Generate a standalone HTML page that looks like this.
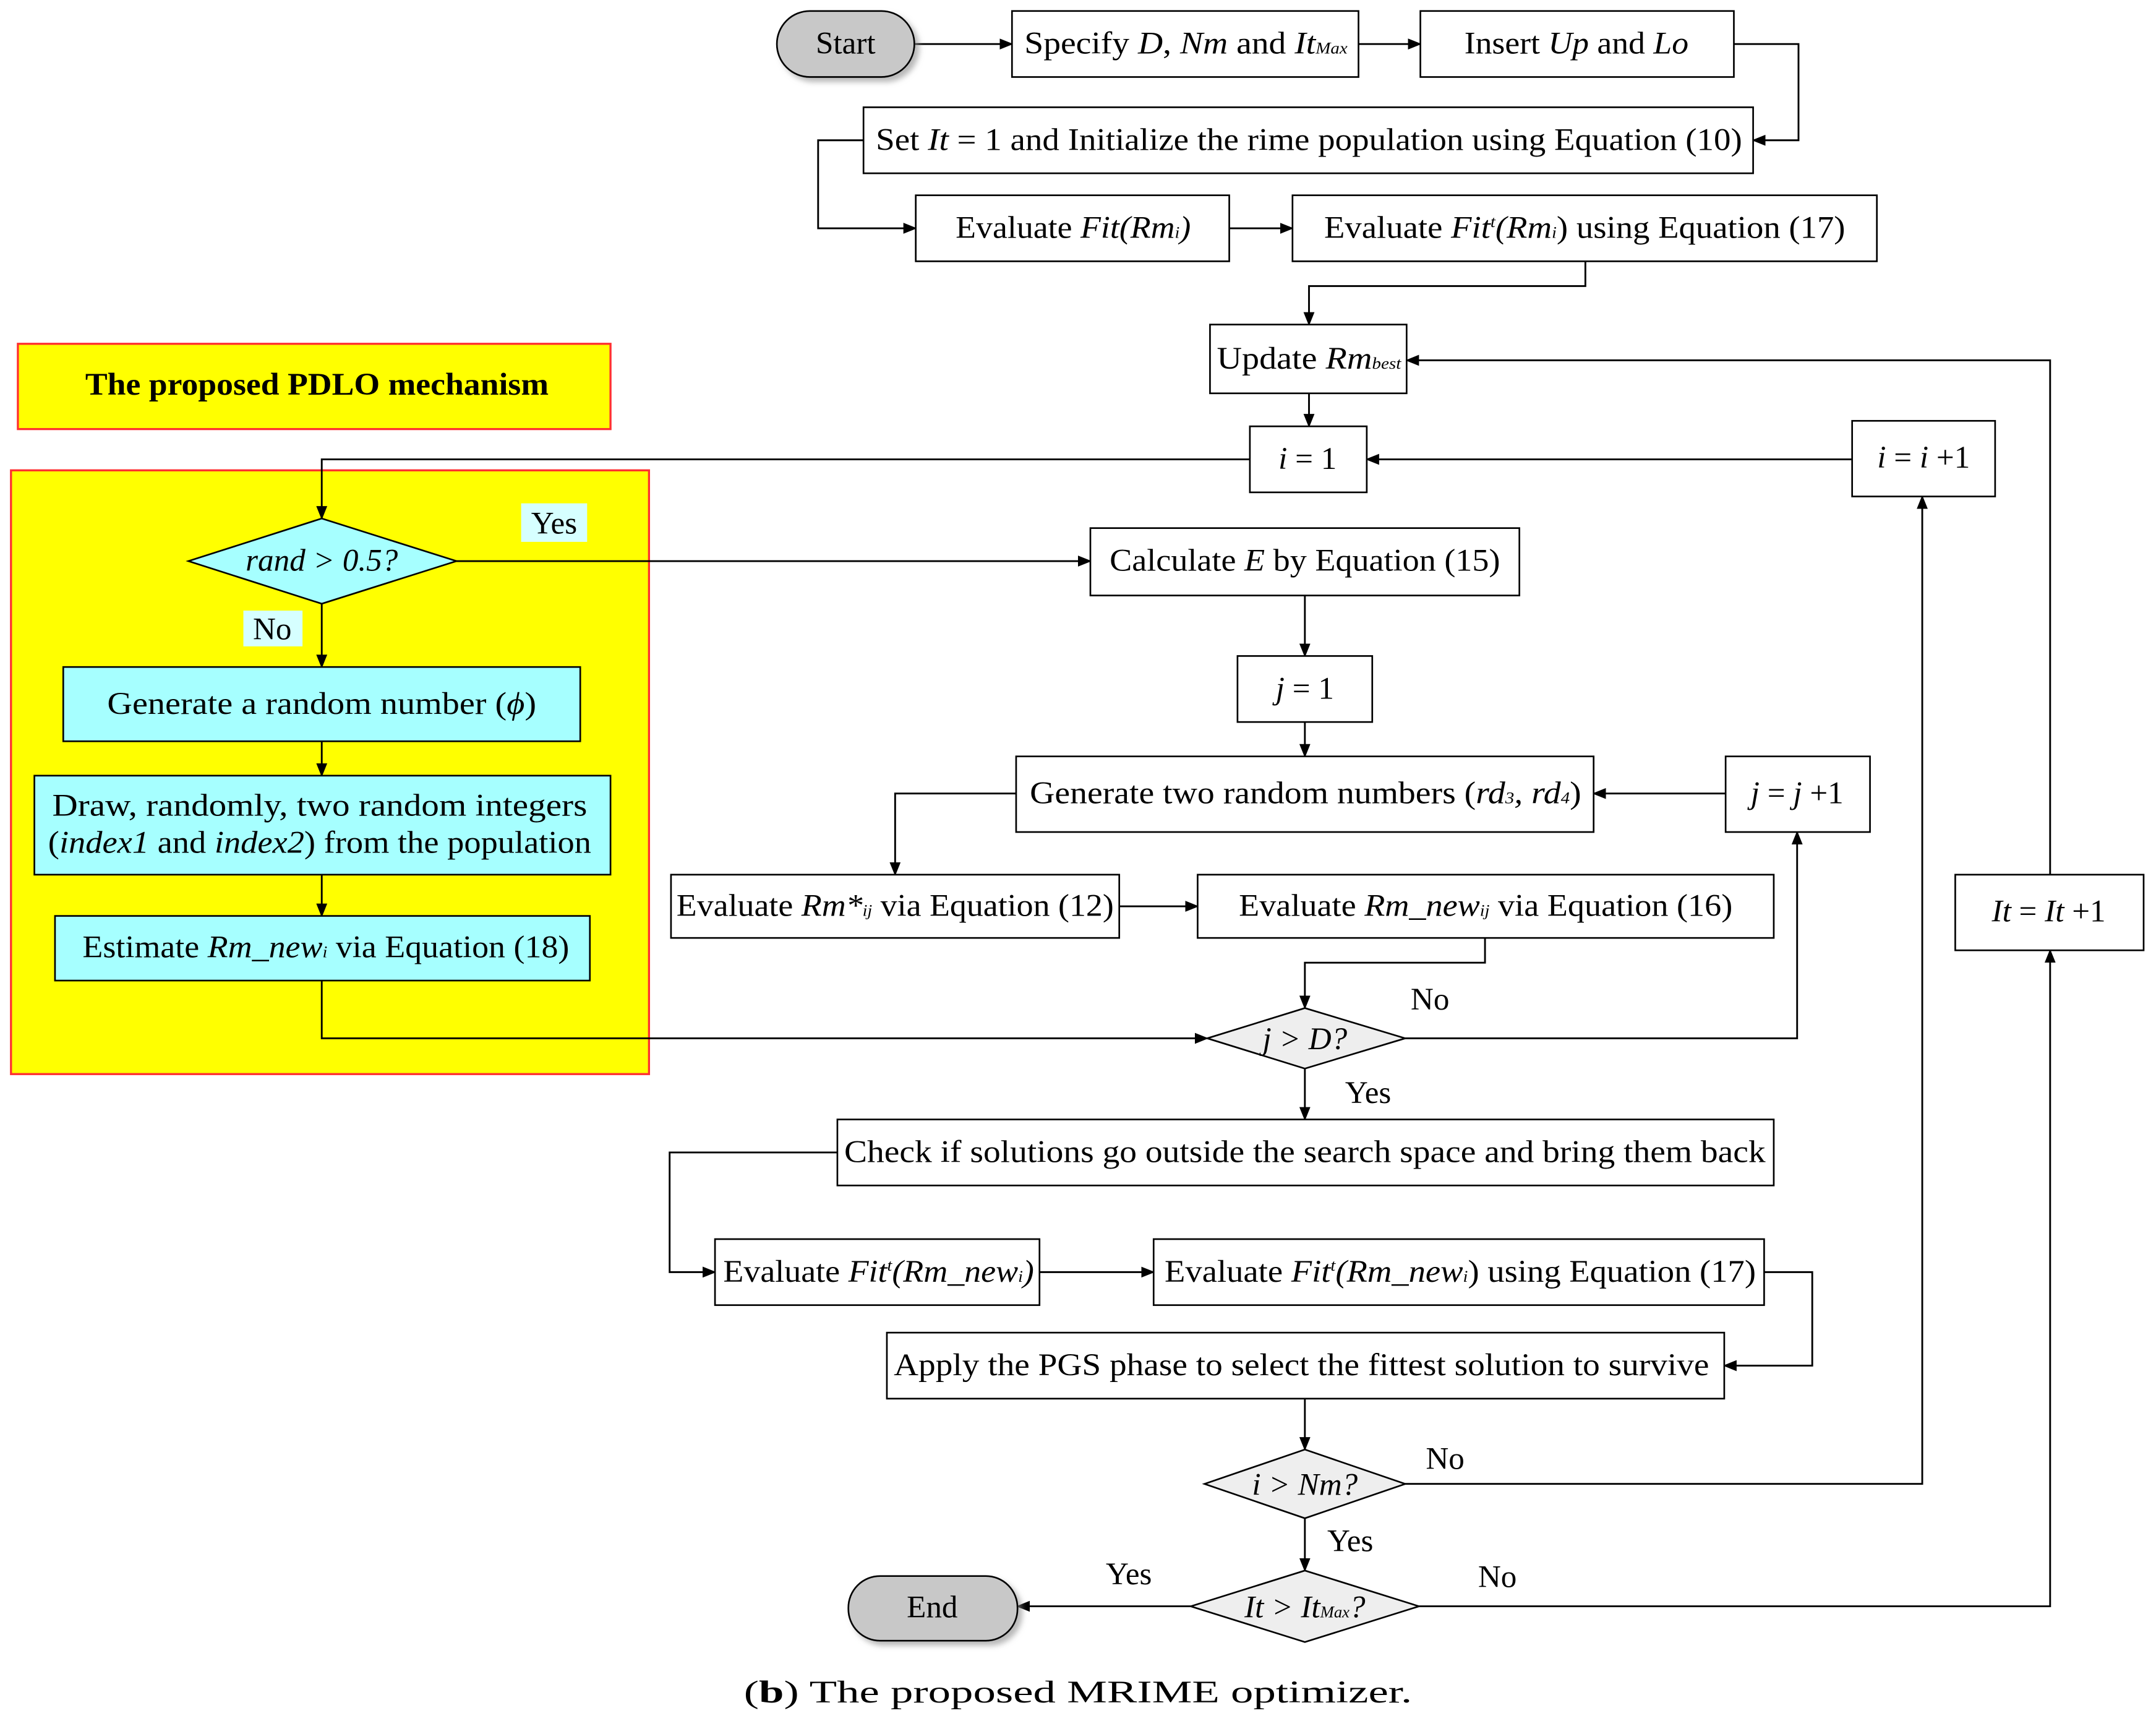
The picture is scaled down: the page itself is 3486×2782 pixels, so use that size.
<!DOCTYPE html>
<html><head><meta charset="utf-8"><style>
html,body{margin:0;padding:0;background:#fff;}
svg{display:block;}
text{font-family:"Liberation Serif",serif;font-size:23px;fill:#000;}
.i{font-style:italic;}
</style></head><body>
<svg width="3486" height="2782" viewBox="0 0 1568 1251.4" preserveAspectRatio="none" xmlns="http://www.w3.org/2000/svg">
<defs>
<marker id="a" markerWidth="10" markerHeight="8" refX="9" refY="4" orient="auto" markerUnits="userSpaceOnUse"><path d="M0,0 L10,4 L0,8 z" fill="#000"/></marker>
<filter id="sh" x="-10%" y="-10%" width="130%" height="140%"><feDropShadow dx="3" dy="3" stdDeviation="2" flood-color="#888" flood-opacity="0.6"/></filter>
</defs>
<rect width="1568" height="1252" fill="#fff"/>
<rect x="13" y="250" width="431" height="62" fill="#ffff00" stroke="#ff3030" stroke-width="1.5"/>
<text x="62" y="287" font-weight="bold" textLength="337" lengthAdjust="spacingAndGlyphs">The proposed PDLO mechanism</text>
<rect x="8" y="342" width="464" height="439" fill="#ffff00" stroke="#ff3030" stroke-width="1.5"/>

<g fill="none" stroke="#000" stroke-width="1.3">
<path d="M665,32 H736" marker-end="url(#a)"/>
<path d="M988,32 H1033" marker-end="url(#a)"/>
<path d="M1261,32 H1308 V102 H1275" marker-end="url(#a)"/>
<path d="M628,102 H595 V166 H666" marker-end="url(#a)"/>
<path d="M894,166 H940" marker-end="url(#a)"/>
<path d="M1153,190 V208 H952 V236" marker-end="url(#a)"/>
<path d="M952,286 V310" marker-end="url(#a)"/>
<path d="M909,334 H234 V377" marker-end="url(#a)"/>
<path d="M1347,334 H994" marker-end="url(#a)"/>
<path d="M332,408 H793" marker-end="url(#a)"/>
<path d="M234,439 V485" marker-end="url(#a)"/>
<path d="M234,539 V564" marker-end="url(#a)"/>
<path d="M234,636 V666" marker-end="url(#a)"/>
<path d="M234,713 V755 H878" marker-end="url(#a)"/>
<path d="M949,433 V477" marker-end="url(#a)"/>
<path d="M949,525 V550" marker-end="url(#a)"/>
<path d="M739,577 H651 V636" marker-end="url(#a)"/>
<path d="M814,659 H871" marker-end="url(#a)"/>
<path d="M1080,682 V700 H949 V733" marker-end="url(#a)"/>
<path d="M1022,755 H1307 V605" marker-end="url(#a)"/>
<path d="M1255,577 H1159" marker-end="url(#a)"/>
<path d="M949,777 V814" marker-end="url(#a)"/>
<path d="M609,838 H487 V925 H520" marker-end="url(#a)"/>
<path d="M756,925 H839" marker-end="url(#a)"/>
<path d="M1283,925 H1318 V993 H1254" marker-end="url(#a)"/>
<path d="M949,1017 V1054" marker-end="url(#a)"/>
<path d="M1022,1079 H1398 V361" marker-end="url(#a)"/>
<path d="M949,1104 V1142" marker-end="url(#a)"/>
<path d="M866,1168 H740" marker-end="url(#a)"/>
<path d="M1032,1168 H1491 V691" marker-end="url(#a)"/>
<path d="M1491,636 V262 H1023" marker-end="url(#a)"/>
</g>

<g stroke="#000" stroke-width="1.2" fill="#fff">
<rect x="565" y="8" width="100" height="48" rx="24" fill="#c8c8c8" filter="url(#sh)"/>
<rect x="617" y="1146" width="123" height="47" rx="23" fill="#c8c8c8" filter="url(#sh)"/>
<rect x="736" y="8" width="252" height="48"/>
<rect x="1033" y="8" width="228" height="48"/>
<rect x="628" y="78" width="647" height="48"/>
<rect x="666" y="142" width="228" height="48"/>
<rect x="940" y="142" width="425" height="48"/>
<rect x="880" y="236" width="143" height="50"/>
<rect x="909" y="310" width="85" height="48"/>
<rect x="1347" y="306" width="104" height="55"/>
<rect x="793" y="384" width="312" height="49"/>
<rect x="900" y="477" width="98" height="48"/>
<rect x="739" y="550" width="420" height="55"/>
<rect x="1255" y="550" width="105" height="55"/>
<rect x="488" y="636" width="326" height="46"/>
<rect x="871" y="636" width="419" height="46"/>
<rect x="609" y="814" width="681" height="48"/>
<rect x="520" y="901" width="236" height="48"/>
<rect x="839" y="901" width="444" height="48"/>
<rect x="645" y="969" width="609" height="48"/>
<rect x="1422" y="636" width="137" height="55"/>
<path d="M878,755 L949,733 L1022,755 L949,777 Z" fill="#eeeeee"/>
<path d="M876,1079 L949,1054 L1022,1079 L949,1104 Z" fill="#eeeeee"/>
<path d="M866,1168 L949,1142 L1032,1168 L949,1194 Z" fill="#eeeeee"/>
<path d="M137,408 L234,377 L332,408 L234,439 Z" fill="#a6ffff"/>
<rect x="46" y="485" width="376" height="54" fill="#a6ffff"/>
<rect x="25" y="564" width="419" height="72" fill="#a6ffff"/>
<rect x="40" y="666" width="389" height="47" fill="#a6ffff"/>
</g>
<rect x="379" y="366" width="48" height="28" fill="#d6ffff"/>
<rect x="177" y="444" width="43" height="26" fill="#d6ffff"/>

<text x="615" y="39" text-anchor="middle">Start</text>
<text x="678" y="1176" text-anchor="middle">End</text>
<text x="745" y="39" textLength="235" lengthAdjust="spacingAndGlyphs">Specify <tspan class="i">D</tspan>, <tspan class="i">Nm</tspan> and <tspan class="i">It<tspan font-size="12">Max</tspan></tspan></text>
<text x="1065" y="39" textLength="163" lengthAdjust="spacingAndGlyphs">Insert <tspan class="i">Up</tspan> and <tspan class="i">Lo</tspan></text>
<text x="637" y="109" textLength="630" lengthAdjust="spacingAndGlyphs">Set <tspan class="i">It</tspan> = 1 and Initialize the rime population using Equation (10)</text>
<text x="695" y="173" textLength="171" lengthAdjust="spacingAndGlyphs">Evaluate <tspan class="i">Fit(Rm<tspan font-size="12">i</tspan>)</tspan></text>
<text x="963" y="173" textLength="379" lengthAdjust="spacingAndGlyphs">Evaluate <tspan class="i">Fit<tspan font-size="12" dy="-8">t</tspan><tspan dy="8">(Rm</tspan><tspan font-size="12">i</tspan></tspan>) using Equation (17)</text>
<text x="885" y="268" textLength="134" lengthAdjust="spacingAndGlyphs">Update <tspan class="i">Rm<tspan font-size="12">best</tspan></tspan></text>
<text x="951" y="341" text-anchor="middle"><tspan class="i">i</tspan> = 1</text>
<text x="1399" y="340" text-anchor="middle"><tspan class="i">i</tspan> = <tspan class="i">i</tspan> +1</text>
<text x="807" y="415" textLength="284" lengthAdjust="spacingAndGlyphs">Calculate <tspan class="i">E</tspan> by Equation (15)</text>
<text x="949" y="508" text-anchor="middle"><tspan class="i">j</tspan> = 1</text>
<text x="749" y="584" textLength="401" lengthAdjust="spacingAndGlyphs">Generate two random numbers (<tspan class="i">rd<tspan font-size="12">3</tspan>, rd<tspan font-size="12">4</tspan></tspan>)</text>
<text x="1307" y="584" text-anchor="middle"><tspan class="i">j</tspan> = <tspan class="i">j</tspan> +1</text>
<text x="492" y="666" textLength="318" lengthAdjust="spacingAndGlyphs">Evaluate <tspan class="i">Rm*<tspan font-size="12">ij</tspan></tspan> via Equation (12)</text>
<text x="901" y="666" textLength="359" lengthAdjust="spacingAndGlyphs">Evaluate <tspan class="i">Rm_new<tspan font-size="12">ij</tspan></tspan> via Equation (16)</text>
<text x="949" y="763" text-anchor="middle" class="i"><tspan>j</tspan> &gt; <tspan>D</tspan>?</text>
<text x="614" y="845" textLength="670" lengthAdjust="spacingAndGlyphs">Check if solutions go outside the search space and bring them back</text>
<text x="526" y="932" textLength="226" lengthAdjust="spacingAndGlyphs">Evaluate <tspan class="i">Fit<tspan font-size="12" dy="-8">t</tspan><tspan dy="8">(Rm_new</tspan><tspan font-size="12">i</tspan>)</tspan></text>
<text x="847" y="932" textLength="430" lengthAdjust="spacingAndGlyphs">Evaluate <tspan class="i">Fit<tspan font-size="12" dy="-8">t</tspan><tspan dy="8">(Rm_new</tspan><tspan font-size="12">i</tspan></tspan>) using Equation (17)</text>
<text x="650" y="1000" textLength="593" lengthAdjust="spacingAndGlyphs">Apply the PGS phase to select the fittest solution to survive</text>
<text x="949" y="1087" text-anchor="middle" class="i">i &gt; Nm?</text>
<text x="949" y="1176" text-anchor="middle" class="i">It &gt; It<tspan font-size="12">Max</tspan>?</text>
<text x="1490" y="670" text-anchor="middle"><tspan class="i">It</tspan> = <tspan class="i">It</tspan> +1</text>

<text x="234" y="415" text-anchor="middle" class="i">rand &gt; 0.5?</text>
<text x="403" y="388" text-anchor="middle">Yes</text>
<text x="198" y="465" text-anchor="middle">No</text>
<text x="78" y="519" textLength="312" lengthAdjust="spacingAndGlyphs">Generate a random number (<tspan class="i">ϕ</tspan>)</text>
<text x="38" y="593" textLength="389" lengthAdjust="spacingAndGlyphs">Draw, randomly, two random integers</text>
<text x="35" y="620" textLength="395" lengthAdjust="spacingAndGlyphs">(<tspan class="i">index1</tspan> and <tspan class="i">index2</tspan>) from the population</text>
<text x="60" y="696" textLength="354" lengthAdjust="spacingAndGlyphs">Estimate <tspan class="i">Rm_new<tspan font-size="12">i</tspan></tspan> via Equation (18)</text>

<text x="1040" y="734" text-anchor="middle">No</text>
<text x="995" y="802" text-anchor="middle">Yes</text>
<text x="1051" y="1068" text-anchor="middle">No</text>
<text x="982" y="1128" text-anchor="middle">Yes</text>
<text x="1089" y="1154" text-anchor="middle">No</text>
<text x="821" y="1152" text-anchor="middle">Yes</text>

<text x="541" y="1238" font-size="31" textLength="486" lengthAdjust="spacingAndGlyphs">(<tspan font-weight="bold">b</tspan>) The proposed MRIME optimizer.</text>
</svg>
</body></html>
